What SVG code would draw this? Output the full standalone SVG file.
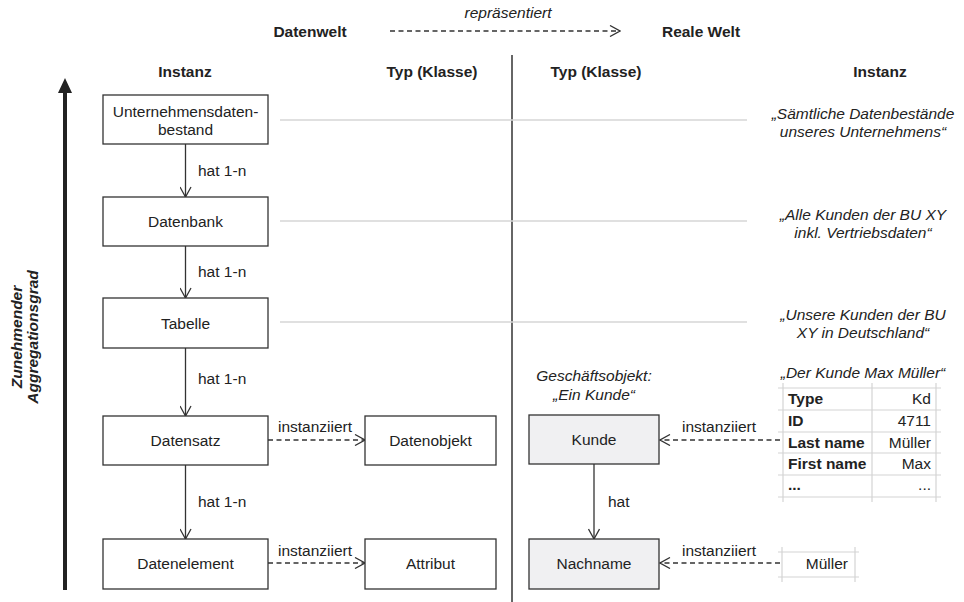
<svg xmlns="http://www.w3.org/2000/svg" width="964" height="602" viewBox="0 0 964 602">
<style>
text{font-family:"Liberation Sans",Arial,sans-serif;font-size:15.5px;fill:#222}
.b{font-weight:bold}
.i{font-style:italic}
.m{text-anchor:middle}
.e{text-anchor:end}
.box{fill:#fff;stroke:#333;stroke-width:1.3}
.gbox{fill:#f0f0f2;stroke:#333;stroke-width:1.3}
.ln{fill:none;stroke:#333;stroke-width:1.3}
.dash{fill:none;stroke:#333;stroke-width:1.3;stroke-dasharray:5,3.5}
.guide{stroke:#d6d6d6;stroke-width:1.5}
.grid{stroke:#d4d4d4;stroke-width:1.2}
</style>
<defs>
<marker id="v" viewBox="0 0 12 12" refX="11" refY="6" markerWidth="12" markerHeight="12" markerUnits="userSpaceOnUse" orient="auto">
<path d="M1,0.5 L11,6 L1,11.5" fill="none" stroke="#333" stroke-width="1.3"/>
</marker>
</defs>

<rect width="964" height="602" fill="#fff"/>

<g id="title">
<text class="b" x="310" y="37" text-anchor="middle">Datenwelt</text>
<text class="i m" x="508" y="18">repräsentiert</text>
<text class="b" x="701" y="37" text-anchor="middle">Reale Welt</text>
</g>

<g id="headers">
<text class="b m" x="185" y="77">Instanz</text>
<text class="b m" x="432" y="77">Typ (Klasse)</text>
<text class="b m" x="596" y="77">Typ (Klasse)</text>
<text class="b m" x="880" y="77">Instanz</text>
</g>

<g id="divider"><line x1="512" y1="55" x2="512" y2="602" stroke="#333" stroke-width="1.5"/></g>

<g id="guides">
<line class="guide" x1="280" y1="120" x2="747" y2="120"/>
<line class="guide" x1="280" y1="221" x2="747" y2="221"/>
<line class="guide" x1="280" y1="322" x2="747" y2="322"/>
</g>

<g id="aggregation">
<line x1="65" y1="90" x2="65" y2="590" stroke="#222" stroke-width="4"/>
<polygon points="65,78 58,93 72,93" fill="#222"/>
<text class="b i m" transform="translate(22,337) rotate(-90)">Zunehmender</text>
<text class="b i m" transform="translate(38,337) rotate(-90)">Aggregationsgrad</text>
</g>

<g id="connectors">
<line class="ln" x1="185.5" y1="144" x2="185.5" y2="197" marker-end="url(#v)"/>
<line class="ln" x1="185.5" y1="246" x2="185.5" y2="298" marker-end="url(#v)"/>
<line class="ln" x1="185.5" y1="348" x2="185.5" y2="416" marker-end="url(#v)"/>
<line class="ln" x1="185.5" y1="465" x2="185.5" y2="539" marker-end="url(#v)"/>
<line class="ln" x1="594" y1="464" x2="594" y2="539" marker-end="url(#v)"/>
<line class="dash" x1="268" y1="440" x2="365" y2="440" marker-end="url(#v)"/>
<line class="dash" x1="268" y1="563" x2="365" y2="563" marker-end="url(#v)"/>
<line class="dash" x1="780" y1="440" x2="660" y2="440" marker-end="url(#v)"/>
<line class="dash" x1="780" y1="563" x2="660" y2="563" marker-end="url(#v)"/>
<line class="dash" x1="390" y1="31" x2="620" y2="31" stroke-dasharray="6,4" marker-end="url(#v)"/>
<text x="198" y="176">hat 1-n</text>
<text x="198" y="277">hat 1-n</text>
<text x="198" y="384">hat 1-n</text>
<text x="198" y="507">hat 1-n</text>
<text x="608" y="507">hat</text>
<text class="m" x="315" y="432">instanziiert</text>
<text class="m" x="315" y="556">instanziiert</text>
<text class="m" x="719" y="432">instanziiert</text>
<text class="m" x="719" y="556">instanziiert</text>
</g>

<g id="n-unternehmensdatenbestand">
<rect class="box" x="103" y="95" width="165" height="49"/>
<text class="m" x="185.5" y="117">Unternehmensdaten-</text>
<text class="m" x="185.5" y="135">bestand</text>
</g>
<g id="n-datenbank">
<rect class="box" x="103" y="197" width="165" height="49"/>
<text class="m" x="185.5" y="227">Datenbank</text>
</g>
<g id="n-tabelle">
<rect class="box" x="103" y="298" width="165" height="50"/>
<text class="m" x="185.5" y="329">Tabelle</text>
</g>
<g id="n-datensatz">
<rect class="box" x="103" y="416" width="165" height="49"/>
<text class="m" x="185.5" y="446">Datensatz</text>
</g>
<g id="n-datenelement">
<rect class="box" x="103" y="539" width="165" height="50"/>
<text class="m" x="185.5" y="569">Datenelement</text>
</g>
<g id="n-datenobjekt">
<rect class="box" x="365" y="416" width="131" height="49"/>
<text class="m" x="430.5" y="446">Datenobjekt</text>
</g>
<g id="n-attribut">
<rect class="box" x="365" y="539" width="131" height="50"/>
<text class="m" x="430.5" y="569">Attribut</text>
</g>
<g id="n-geschaeftsobjekt">
<text class="i m" x="594" y="381">Geschäftsobjekt:</text>
<text class="i m" x="594" y="400">„Ein Kunde“</text>
</g>
<g id="n-kunde">
<rect class="gbox" x="529" y="415" width="130" height="49"/>
<text class="m" x="594" y="445">Kunde</text>
</g>
<g id="n-nachname">
<rect class="gbox" x="529" y="539" width="130" height="50"/>
<text class="m" x="594" y="569">Nachname</text>
</g>

<g id="n-q1">
<text class="i m" x="863" y="119">„Sämtliche Datenbestände</text>
<text class="i m" x="863" y="137">unseres Unternehmens“</text>
</g>
<g id="n-q2">
<text class="i m" x="863" y="220">„Alle Kunden der BU XY</text>
<text class="i m" x="863" y="238">inkl. Vertriebsdaten“</text>
</g>
<g id="n-q3">
<text class="i m" x="863" y="320">„Unsere Kunden der BU</text>
<text class="i m" x="863" y="338">XY in Deutschland“</text>
</g>

<g id="n-table">
<text class="i m" x="863" y="378">„Der Kunde Max Müller“</text>
<line class="grid" x1="783" y1="383" x2="783" y2="502"/>
<line class="grid" x1="872" y1="383" x2="872" y2="502"/>
<line class="grid" x1="936" y1="383" x2="936" y2="502"/>
<line class="grid" x1="778" y1="388" x2="941" y2="388"/>
<line class="grid" x1="778" y1="410" x2="941" y2="410"/>
<line class="grid" x1="778" y1="432" x2="941" y2="432"/>
<line class="grid" x1="778" y1="453" x2="941" y2="453"/>
<line class="grid" x1="778" y1="475" x2="941" y2="475"/>
<line class="grid" x1="778" y1="497" x2="941" y2="497"/>
<text class="b" x="788" y="404">Type</text>
<text class="e" x="931" y="404">Kd</text>
<text class="b" x="788" y="426">ID</text>
<text class="e" x="931" y="426">4711</text>
<text class="b" x="788" y="448">Last name</text>
<text class="e" x="931" y="448">Müller</text>
<text class="b" x="788" y="469">First name</text>
<text class="e" x="931" y="469">Max</text>
<text class="b" x="788" y="490">...</text>
<text class="e" x="931" y="490">...</text>
</g>

<g id="n-mueller">
<line class="grid" x1="782" y1="547" x2="782" y2="582"/>
<line class="grid" x1="855" y1="547" x2="855" y2="582"/>
<line class="grid" x1="778" y1="552" x2="859" y2="552"/>
<line class="grid" x1="778" y1="577" x2="859" y2="577"/>
<text class="e" x="848" y="569">Müller</text>
</g>
</svg>
